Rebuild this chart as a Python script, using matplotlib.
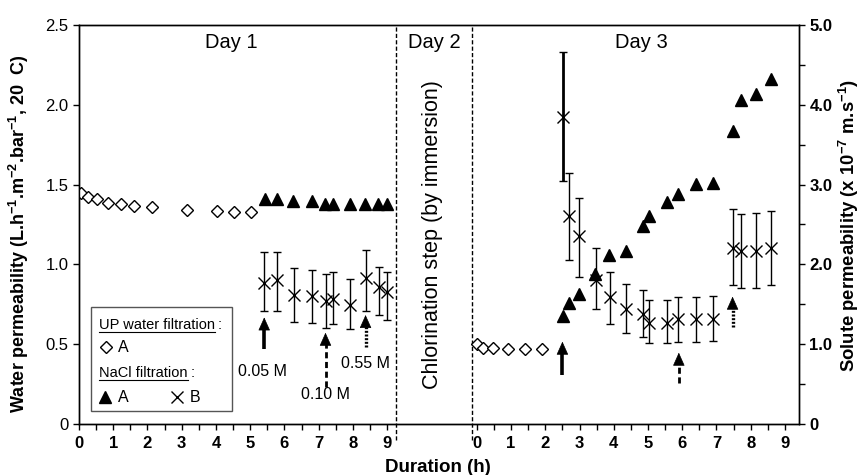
import matplotlib
matplotlib.use('Agg')
import matplotlib.pyplot as plt
import numpy as np
from matplotlib.patches import Rectangle
from matplotlib.lines import Line2D

plt.rcParams['font.family'] = ['Liberation Sans', 'DejaVu Sans']
plt.rcParams['mathtext.fontset'] = 'custom'
plt.rcParams['mathtext.rm'] = 'Liberation Sans'
plt.rcParams['mathtext.bf'] = 'Liberation Sans:bold'

# ---------------- data ----------------
# Day 1 : UP water filtration (membrane A), water permeability
up_d1_t = [0.06, 0.27, 0.52, 0.86, 1.22, 1.61, 2.12, 3.15, 4.02, 4.54, 5.02]
up_d1_lp = [1.449, 1.424, 1.408, 1.383, 1.378, 1.366, 1.362, 1.341, 1.337, 1.328, 1.326]
# Day 1 : NaCl filtration A, water permeability
na_d1_t = [5.43, 5.77, 6.26, 6.80, 7.19, 7.43, 7.92, 8.36, 8.74, 9.00]
na_d1_lp = [1.41, 1.41, 1.40, 1.40, 1.378, 1.378, 1.378, 1.378, 1.378, 1.378]
# Day 1 : NaCl filtration B, solute permeability (x1e-7 m/s)
nb_d1_t = [5.41, 5.77, 6.28, 6.80, 7.22, 7.43, 7.92, 8.37, 8.75, 9.00]
nb_d1_b = [1.77, 1.80, 1.62, 1.60, 1.54, 1.57, 1.49, 1.83, 1.72, 1.66]
nb_d1_hi = [2.16, 2.16, 1.95, 1.93, 1.88, 1.91, 1.82, 2.18, 1.97, 1.90]
nb_d1_lo = [1.42, 1.42, 1.28, 1.26, 1.20, 1.25, 1.19, 1.42, 1.36, 1.30]

# Day 3 : UP water filtration A
up_d3_t = [0.00, 0.19, 0.47, 0.92, 1.41, 1.90]
up_d3_lp = [0.499, 0.478, 0.474, 0.468, 0.468, 0.468]
# Day 3 : NaCl filtration A
na_d3_t = [2.53, 2.68, 2.99, 3.45, 3.87, 4.36, 4.86, 5.04, 5.55, 5.89, 6.39, 6.89,
           7.47, 7.71, 8.14, 8.58]
na_d3_lp = [0.677, 0.76, 0.813, 0.94, 1.059, 1.086, 1.241, 1.303, 1.393, 1.439,
            1.504, 1.512, 1.836, 2.03, 2.068, 2.16]
# Day 3 : NaCl filtration B, solute permeability
nb_d3_t = [2.53, 2.69, 2.99, 3.47, 3.89, 4.35, 4.85, 5.04, 5.55, 5.89, 6.40, 6.89,
           7.47, 7.71, 8.15, 8.58]
nb_d3_b = [3.85, 2.61, 2.35, 1.81, 1.59, 1.44, 1.38, 1.27, 1.27, 1.32, 1.31, 1.32,
           2.20, 2.17, 2.17, 2.20]
nb_d3_hi = [4.66, 3.15, 2.83, 2.20, 1.91, 1.75, 1.68, 1.55, 1.55, 1.59, 1.59, 1.60,
            2.69, 2.63, 2.64, 2.67]
nb_d3_lo = [3.04, 2.06, 1.84, 1.44, 1.25, 1.14, 1.09, 1.01, 1.01, 1.03, 1.03, 1.04,
            1.74, 1.71, 1.71, 1.74]

# concentration-change arrows: (day, t, tail, tip, style)
arrow_day = [1, 1, 1, 3, 3, 3]
arrow_t = [5.41, 7.20, 8.37, 2.50, 5.90, 7.47]
arrow_tail = [0.468, 0.233, 0.484, 0.307, 0.259, 0.606]
arrow_tip = [0.668, 0.572, 0.683, 0.516, 0.447, 0.798]
arrow_style = ['solid', 'dashed', 'dotted', 'solid', 'dashed', 'dotted']
conc_labels = ['0.05 M', '0.10 M', '0.55 M']
conc_t = [5.35, 7.21, 8.37]
conc_y = [0.326, 0.182, 0.38]

hour_ticks = list(range(10))
hour_labels = [str(h) for h in hour_ticks]
left_ticks = [0, 0.5, 1.0, 1.5, 2.0, 2.5]
left_labels = ['0', '0.5', '1.0', '1.5', '2.0', '2.5']
right_ticks = [0, 0.5, 1.0, 1.5, 2.0, 2.5, 3.0, 3.5, 4.0, 4.5, 5.0]
right_labels = ['0', '', '1.0', '', '2.0', '', '3.0', '', '4.0', '', '5.0']

# ---------------- layout ----------------
OFF3 = 11.62
D2_START, D2_END = 9.26, 11.47
X_MAX = 21.03
W, H = 863, 475

fig = plt.figure(figsize=(W / 100, H / 100), dpi=100)
ax = fig.add_axes([79 / W, 1 - 424 / H, 720 / W, 399 / H])
ax2 = ax.twinx()

def sh(ts, off):
    return [t + off for t in ts]

# markers
ax.plot(up_d1_t, up_d1_lp, 'D', ms=6, mfc='white', mec='k', mew=1.0, ls='none', zorder=3)
ax.plot(sh(up_d3_t, OFF3), up_d3_lp, 'D', ms=6, mfc='white', mec='k', mew=1.0, ls='none', zorder=3)
ax.plot(na_d1_t, na_d1_lp, '^', ms=9, color='k', ls='none', zorder=3)
ax.plot(sh(na_d3_t, OFF3), na_d3_lp, '^', ms=9, color='k', ls='none', zorder=3)

def eb(axis, t, v, lo, hi, lw):
    v = np.array(v); lo = np.array(lo); hi = np.array(hi)
    axis.errorbar(t, v, yerr=[v - lo, hi - v], fmt='x', color='k', ms=9, mew=1.0,
                  elinewidth=lw, capsize=3, capthick=1.0, zorder=3)

eb(ax2, nb_d1_t, nb_d1_b, nb_d1_lo, nb_d1_hi, 1.0)
eb(ax2, sh(nb_d3_t[1:], OFF3), nb_d3_b[1:], nb_d3_lo[1:], nb_d3_hi[1:], 1.0)
eb(ax2, sh(nb_d3_t[:1], OFF3), nb_d3_b[:1], nb_d3_lo[:1], nb_d3_hi[:1], 2.0)

# arrows
styles = {'solid': ('-', 2.6), 'dashed': ((0, (2.2, 1.3)), 2.0), 'dotted': ((0, (0.6, 0.5)), 2.4)}
for d, t, a, b, s in zip(arrow_day, arrow_t, arrow_tail, arrow_tip, arrow_style):
    x = t + (OFF3 if d == 3 else 0)
    ls, lw = styles[s]
    ax.plot([x, x], [a, b - 0.04], color='k', ls=ls, lw=lw, solid_capstyle='butt',
            dash_capstyle='butt', zorder=4)
    ax.annotate('', xy=(x, b), xytext=(x, b - 0.06),
                arrowprops=dict(arrowstyle='-|>,head_length=0.85,head_width=0.38',
                                color='k', lw=0.5, shrinkA=0, shrinkB=0), zorder=5)

for lab, t, y in zip(conc_labels, conc_t, conc_y):
    ax.text(t, y, lab, ha='center', va='center', fontsize=11.5)

# day separators
for xv in (D2_START, D2_END):
    ax.plot([xv, xv], [-0.04, 1], transform=ax.get_xaxis_transform(), color='k',
            lw=1.0, ls=(0, (3, 1.6)), clip_on=False, zorder=2)

ax.text(4.46, 0.955, 'Day 1', transform=ax.get_xaxis_transform(), ha='center', va='center', fontsize=14.5)
ax.text((D2_START + D2_END) / 2, 0.955, 'Day 2', transform=ax.get_xaxis_transform(), ha='center', va='center', fontsize=14.5)
ax.text(OFF3 + 4.81, 0.955, 'Day 3', transform=ax.get_xaxis_transform(), ha='center', va='center', fontsize=14.5)
ax.text((D2_START + D2_END) / 2 - 0.05, (424 - 235) / 399, 'Chlorination step (by immersion)',
        transform=ax.get_xaxis_transform(), rotation=90, ha='center', va='center', fontsize=15.5)

# axes settings
ax.set_xlim(0, X_MAX)
ax.set_ylim(0, 2.5)
ax2.set_ylim(0, 5.0)

major = hour_ticks + [h + OFF3 for h in hour_ticks]
minor = [h + 0.5 for h in hour_ticks[:-1]] + [h + 0.5 + OFF3 for h in hour_ticks[:-1]]
ax.set_xticks(major)
ax.set_xticklabels(hour_labels + hour_labels, fontweight='bold', fontsize=12)
ax.set_xticks(minor, minor=True)
ax.tick_params(axis='x', which='both', direction='out', length=4.5, width=1.0, pad=4)
ax.set_yticks(left_ticks)
ax.set_yticklabels(left_labels, fontsize=12)
ax.tick_params(axis='y', direction='out', length=4.5, width=1.0, pad=3)
ax2.set_yticks(right_ticks)
ax2.set_yticklabels(right_labels, fontweight='bold', fontsize=12)
ax2.tick_params(axis='y', direction='out', length=4.5, width=1.0, pad=3)
for a in (ax, ax2):
    for sp in a.spines.values():
        sp.set_linewidth(1.0)

ax.set_ylabel('Water permeability (L.h$^{\\mathbf{-1}}$.m$^{\\mathbf{-2}}$.bar$^{\\mathbf{-1}}$, 20  C)',
              fontweight='bold', fontsize=13)
ax.yaxis.set_label_coords((31 - 79) / 720, (424 - 234) / 399)
ax2.set_ylabel('Solute permeability (x 10$^{\\mathbf{-7}}$ m.s$^{\\mathbf{-1}}$)',
               fontweight='bold', fontsize=13.3)
ax2.yaxis.set_label_coords((837 - 79) / 720, (424 - 225) / 399)
ax.set_xlabel('Duration (h)', fontweight='bold', fontsize=13.5)
ax.xaxis.set_label_coords((438 - 79) / 720, (424 - 459) / 399)

# legend (manual)
def fx(px):
    return px / W

def fy(py):
    return 1 - py / H

fig.add_artist(Rectangle((fx(90.7), fy(410.7)), (231.7 - 90.7) / W, (410.7 - 306.7) / H,
                         transform=fig.transFigure, fill=True, fc='white', ec='#555555', lw=1.0, zorder=10))
t1 = fig.text(fx(99), fy(325), 'UP water filtration', fontsize=10.5, ha='left', va='center', zorder=11)
t2 = fig.text(fx(99), fy(372.7), 'NaCl filtration', fontsize=10.5, ha='left', va='center', zorder=11)
fig.canvas.draw()
r = fig.canvas.get_renderer()
for tt, yy in ((t1, 332), (t2, 380)):
    bb = tt.get_window_extent(r)
    fig.add_artist(Line2D([bb.x0 / W, bb.x1 / W], [fy(yy), fy(yy)], transform=fig.transFigure,
                          color='k', lw=0.8, zorder=11))
    fig.text((bb.x1 + 3) / W, fy(325 if tt is t1 else 372.7), ':', fontsize=10.5, ha='left', va='center', zorder=11)

fig.add_artist(Line2D([fx(106)], [fy(347)], marker='D', ms=6, mfc='white', mec='k', mew=1.0,
                      ls='none', transform=fig.transFigure, zorder=11))
fig.text(fx(118), fy(347), 'A', fontsize=11.5, ha='left', va='center', zorder=11)
fig.add_artist(Line2D([fx(105)], [fy(397)], marker='^', ms=9, color='k',
                      ls='none', transform=fig.transFigure, zorder=11))
fig.text(fx(118), fy(397), 'A', fontsize=11.5, ha='left', va='center', zorder=11)
fig.add_artist(Line2D([fx(177)], [fy(397)], marker='x', ms=9, mew=1.0, color='k',
                      ls='none', transform=fig.transFigure, zorder=11))
fig.text(fx(190), fy(397), 'B', fontsize=11.5, ha='left', va='center', zorder=11)

fig.savefig('out.png', dpi=100)
